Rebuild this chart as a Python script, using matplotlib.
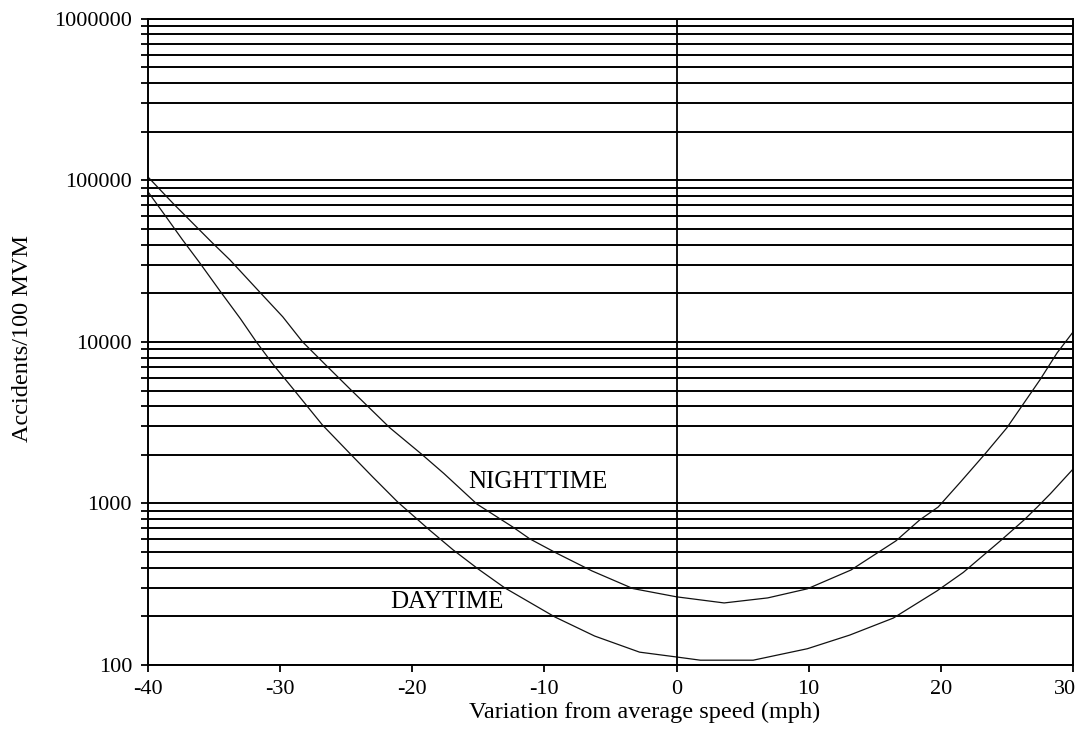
import numpy as np
import matplotlib
matplotlib.use('Agg')
import matplotlib.pyplot as plt
import matplotlib.transforms as mtransforms
from matplotlib.ticker import LogLocator, FixedLocator, NullFormatter

plt.rcParams['font.family'] = ['Liberation Serif', 'DejaVu Serif']

# accident rate vs. deviation from average speed
night_speed = [-40.0, -38.1, -35.2, -33.8, -31.7, -29.8, -28.3, -26.4, -24.7,
               -21.7, -19.3, -17.6, -15.1, -12.4, -11.1, -9.1, -6.4, -3.3,
               0.0, 3.6, 6.9, 9.9, 13.2, 16.6, 18.4, 19.8, 21.5, 23.4, 25.0,
               27.5, 28.8, 30.0]
night_rate = [105000, 72000, 41600, 32200, 21000, 14300, 10000, 7000, 5100,
              2940, 2020, 1530, 990, 715, 603, 493, 382, 297,
              264, 242, 260, 296, 387, 586, 790, 950, 1360, 2050, 2940,
              5820, 8550, 11500]

day_speed = [-40.0, -38.6, -37.4, -36.1, -34.5, -33.0, -31.8, -30.5, -29.0,
             -26.8, -24.7, -23.0, -21.1, -18.7, -16.9, -15.0, -13.0, -9.2,
             -6.2, -2.8, 0.0, 1.8, 5.8, 9.9, 13.1, 16.4, 19.7, 21.7, 24.5,
             26.3, 27.3, 28.3, 30.0]
day_rate = [85000, 59000, 43000, 31000, 20400, 13900, 10000, 7200, 5100,
            3060, 2030, 1460, 1020, 685, 515, 392, 300, 198,
            151, 120, 112, 107, 107, 126, 153, 195, 287, 374, 586,
            790, 950, 1150, 1630]

x_ticks = [-40, -30, -20, -10, 0, 10, 20, 30]
y_ticks = [100, 1000, 10000, 100000, 1000000]
y_labels = ['100', '1000', '10000', '100000', '1000000']


fig = plt.figure(figsize=(10.8, 7.38), dpi=100)
ax = fig.add_axes([0.137, 0.099, 0.8565, 0.8755])

ax.set_yscale('log')
ax.set_xlim(-40, 30)
ax.set_ylim(100, 1000000)

ax.plot(night_speed, night_rate, color='#111111', lw=0.9)
ax.plot(day_speed, day_rate, color='#111111', lw=0.9)

ax.text(-10.5, 1357, 'NIGHTTIME', ha='center', va='center', fontsize=18)
ax.text(-17.4, 247, 'DAYTIME', ha='center', va='center', fontsize=18)

# horizontal rules at every decade subdivision
ax.yaxis.set_major_locator(FixedLocator(y_ticks))
ax.set_yticklabels(y_labels)
ax.yaxis.set_minor_locator(LogLocator(base=10, subs=np.arange(2, 10)))
ax.yaxis.set_minor_formatter(NullFormatter())
ax.yaxis.grid(True, which='both', color='black', lw=1.4)
ax.set_axisbelow(True)
ax.axvline(0, color='black', lw=1.3)

ax.set_xticks(x_ticks)
ax.set_xticklabels([str(t) for t in x_ticks])

ax.tick_params(axis='both', which='both', direction='out', length=5,
               width=1.3, labelsize=16, color='black')
ax.tick_params(axis='y', pad=6.5)
ax.tick_params(axis='x', pad=6)

# nudge the last x label so it stays inside the figure
last = ax.get_xticklabels()[-1]
last.set_transform(last.get_transform() +
                   mtransforms.ScaledTranslation(-6 / 72, 0, fig.dpi_scale_trans))

for side in ['left', 'right', 'bottom', 'top']:
    ax.spines[side].set_linewidth(1.4)
    ax.spines[side].set_color('black')

ax.set_xlabel('Variation from average speed (mph)', fontsize=17.5)
ax.xaxis.label.set_va('center')
ax.xaxis.set_label_coords(0.537, -0.073)
ax.set_ylabel('Accidents/100 MVM', fontsize=17.5)
ax.yaxis.label.set_va('center')
ax.yaxis.set_label_coords(-0.136, 0.506)

fig.savefig('out.png', dpi=100, facecolor='white')
